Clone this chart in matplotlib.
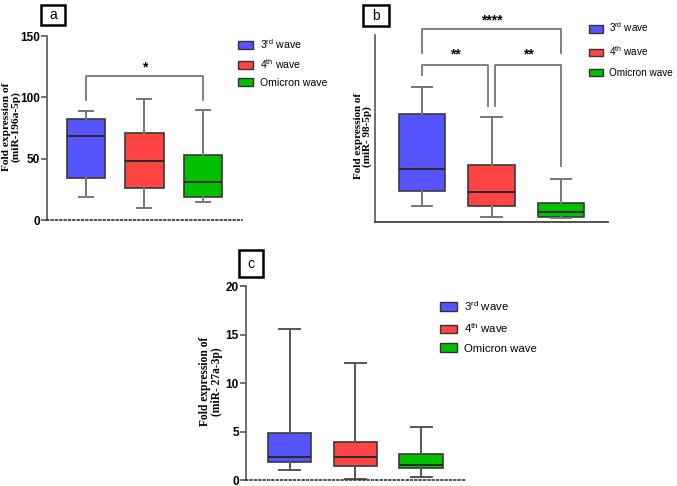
"""Box plots of miRNA fold expression across COVID-19 waves (panels a, b, c)."""

import matplotlib

matplotlib.use("Agg")
import matplotlib.pyplot as plt
from matplotlib.patches import Patch, Rectangle

plt.rcParams["font.family"] = ["Liberation Sans", "DejaVu Sans"]
plt.rcParams["mathtext.default"] = "regular"

GROUPS = ["3$^{rd}$ wave", "4$^{th}$ wave", "Omicron wave"]
COLORS = ["#5555ff", "#ff4444", "#00c000"]

# panel a: miR-196a-5p
a_low = [19, 10, 14.5]
a_q1 = [34, 26, 19]
a_med = [68.5, 48, 31]
a_q3 = [82.5, 71, 53]
a_high = [89, 99, 90]

# panel b: miR-98-5p (no y scale shown, arbitrary units)
b_low = [8.6, 2.8, 2.0]
b_q1 = [16.7, 8.4, 2.5]
b_med = [28.5, 16, 5.2]
b_q3 = [57.8, 30.5, 10.3]
b_high = [72.4, 56, 23]

# panel c: miR-27a-3p
c_low = [1.05, 0.07, 0.3]
c_q1 = [1.82, 1.47, 1.27]
c_med = [2.4, 2.4, 1.6]
c_q3 = [4.8, 3.95, 2.65]
c_high = [15.6, 12.1, 5.43]


def make_stats(low, q1, med, q3, high):
    return [
        {"whislo": lo, "q1": a, "med": m, "q3": b, "whishi": hi, "fliers": []}
        for lo, a, m, b, hi in zip(low, q1, med, q3, high)
    ]


def draw_boxes(ax, stats, capw, whisker_color="#777777"):
    bp = ax.bxp(
        stats,
        positions=[1, 2, 3],
        widths=0.66,
        capwidths=capw,
        patch_artist=True,
        showfliers=False,
        boxprops=dict(edgecolor="#3a3a3a", linewidth=1.2),
        medianprops=dict(color="#2a2a2a", linewidth=1.4),
        whiskerprops=dict(color=whisker_color, linewidth=1.4),
        capprops=dict(color=whisker_color, linewidth=1.4),
    )
    for patch, col in zip(bp["boxes"], COLORS):
        patch.set_facecolor(col)
    ax.set_xlim(0.33, 3.67)
    ax.set_xticks([])
    for s in ("top", "right"):
        ax.spines[s].set_visible(False)
    ax.spines["left"].set_color("#555555")
    ax.spines["left"].set_linewidth(1.2)
    ax.tick_params(axis="y", length=4, width=1.2, color="#555555", pad=1)
    for lbl in ax.get_yticklabels():
        lbl.set_fontweight("bold")


def dotted_bottom(ax):
    sp = ax.spines["bottom"]
    sp.set_linestyle((0, (1, 1.6)))
    sp.set_color("#333333")
    sp.set_linewidth(1.2)


def add_legend(fig, x, y, fs, spacing):
    handles = [Patch(facecolor=c, edgecolor="#333333", linewidth=1.0) for c in COLORS]
    fig.legend(
        handles, GROUPS, loc="upper left", bbox_to_anchor=(x, y),
        frameon=False, fontsize=fs, handlelength=1.45, handleheight=0.75,
        labelspacing=spacing, handletextpad=0.6, borderpad=0,
    )


def panel_label(fig, x0, y0, w, h, text):
    W, H = 677, 486
    fig.add_artist(Rectangle((x0 / W, 1 - (y0 + h) / H), w / W, h / H,
                             transform=fig.transFigure, fill=False,
                             edgecolor="black", linewidth=1.8))
    fig.text((x0 + w / 2) / W, 1 - (y0 + h / 2) / H, text, ha="center",
             va="center", fontsize=10)


def bracket(ax, x1, x2, y, d1, d2, label, ty):
    ax.plot([x1, x1, x2, x2], [d1, y, y, d2], color="#777777", lw=1.3,
            clip_on=False)
    ax.text((x1 + x2) / 2, ty, label, ha="center", va="center",
            fontsize=10, fontweight="bold", clip_on=False)


fig = plt.figure(figsize=(6.77, 4.86), dpi=100)

# ---- panel a
ax_a = fig.add_axes([0.0694, 0.5473, 0.288, 0.3786])
ax_a.set_ylim(0, 150)
ax_a.set_yticks([0, 50, 100, 150])
ax_a.tick_params(axis="y", labelsize=8.5)
draw_boxes(ax_a, make_stats(a_low, a_q1, a_med, a_q3, a_high), 0.24)
dotted_bottom(ax_a)
bracket(ax_a, 1, 3, 117, 98, 98, "*", 124)
fig.text(0.0165, 0.74, "Fold expression of\n(miR-196a-5p)", rotation=90,
         ha="center", va="center", family="Liberation Serif",
         fontweight="bold", fontsize=8.2, linespacing=1.0)
add_legend(fig, 0.344, 0.935, 7.6, 0.62)
panel_label(fig, 41, 5, 24, 20, "a")

# ---- panel b
ax_b = fig.add_axes([0.554, 0.543, 0.344, 0.385])
ax_b.set_ylim(0, 100)
ax_b.set_yticks([])
draw_boxes(ax_b, make_stats(b_low, b_q1, b_med, b_q3, b_high), 0.29)
ax_b.spines["bottom"].set_color("#333333")
ax_b.spines["bottom"].set_linewidth(1.2)
bracket(ax_b, 1, 3, 103, 90.5, 90.5, "****", 108)
bracket(ax_b, 1, 1.95, 84, 78.6, 62, "**", 89.5)
bracket(ax_b, 2.05, 3, 84, 62, 30, "**", 89.5)
fig.text(0.536, 0.72, "Fold expression of\n(miR- 98-5p)", rotation=90,
         ha="center", va="center", family="Liberation Serif",
         fontweight="bold", fontsize=8, linespacing=1.0)
add_legend(fig, 0.862, 0.968, 7.2, 1.0)
panel_label(fig, 363, 5, 26, 21, "b")

# ---- panel c
ax_c = fig.add_axes([0.363, 0.0123, 0.324, 0.3992])
ax_c.set_ylim(0, 20)
ax_c.set_yticks([0, 5, 10, 15, 20])
ax_c.tick_params(axis="y", labelsize=8.5)
draw_boxes(ax_c, make_stats(c_low, c_q1, c_med, c_q3, c_high), 0.32,
           whisker_color="#555555")
dotted_bottom(ax_c)
fig.text(0.312, 0.215, "Fold expression of\n(miR- 27a-3p)", rotation=90,
         ha="center", va="center", family="Liberation Serif",
         fontweight="bold", fontsize=8.3, linespacing=1.0)
add_legend(fig, 0.642, 0.397, 8.2, 0.75)
panel_label(fig, 239, 250, 24, 27, "c")

fig.savefig("out.png", dpi=100)
